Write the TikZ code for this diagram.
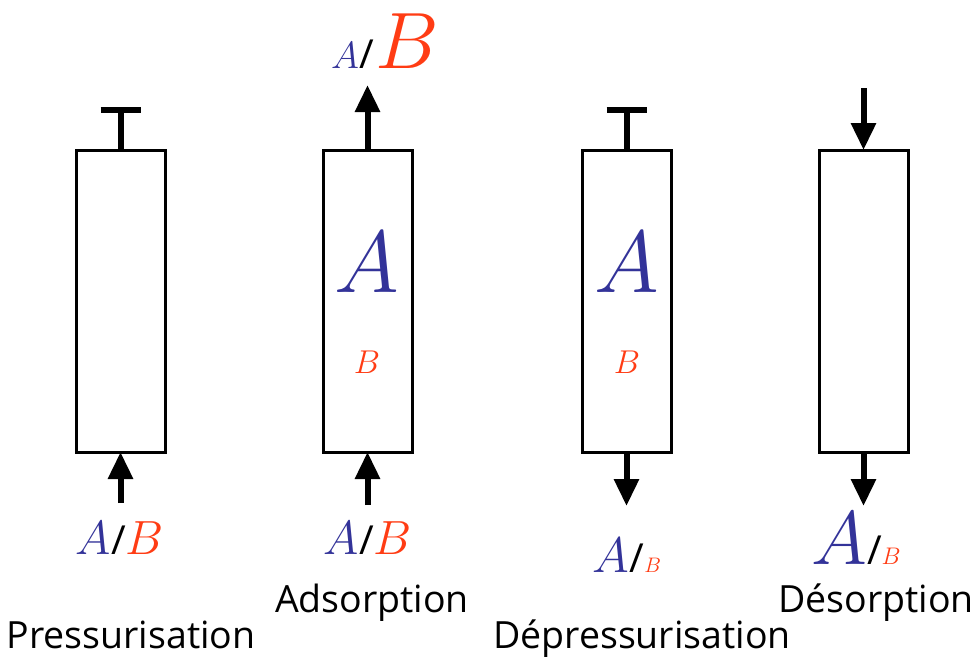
\RequirePackage{fix-cm}
\documentclass[tikz,border=0pt]{standalone}
\usepackage{fontspec}
\setmainfont{Open Sans}
\usetikzlibrary{arrows.meta,positioning}

\definecolor{bleuA}{RGB}{51,51,153}
\definecolor{rougeB}{RGB}{255,60,20}
\newcommand{\gazA}[1]{{\color{bleuA}\fontsize{#1}{#1}\selectfont$A$}}
\newcommand{\gazB}[1]{{\color{rougeB}\fontsize{#1}{#1}\selectfont$B$}}
\newcommand{\barre}{{\fontsize{40}{40}\selectfont /}}

\begin{document}
\begin{tikzpicture}[x=1pt, y=-1pt,
    colonne/.style={draw, line width=3pt, minimum width=89pt, minimum height=302pt, inner sep=0pt, outer sep=0pt},
    fleche/.style={line width=6pt, -{Triangle[width=24pt,length=27pt]}},
    tige/.style={line width=6pt},
    etape/.style={anchor=base, font=\fontsize{37.5}{37.5}\selectfont, inner sep=0pt}]
  \useasboundingbox (0,0) rectangle (979,659);
  % columns
  \node[colonne] (c1) at (120.5,301) {};
  \node[colonne] (c2) at (367.5,301) {};
  \node[colonne] (c3) at (626.5,301) {};
  \node[colonne] (c4) at (863.5,301) {};
  % gas inside the columns
  \node (inA2) at (367,262) {\gazA{88}};
  \node (inB2) at (367,362) {\gazB{33}};
  \node (inA3) at (627,262) {\gazA{88}};
  \node (inB3) at (627,362) {\gazB{33}};
  % closed ends
  \coordinate (t1) at (120.5,110);
  \coordinate (t3) at (626.5,110);
  \draw[tige] (c1.north) -- (t1);
  \draw[tige] ([xshift=-20pt]t1) -- ([xshift=20pt]t1);
  \draw[tige] (c3.north) -- (t3);
  \draw[tige] ([xshift=-20pt]t3) -- ([xshift=20pt]t3);
  % feed and product streams
  \coordinate (e1) at (120.5,503);
  \coordinate (e2) at (367.5,505);
  \coordinate (s2) at (367.5,85);
  \coordinate (s3) at (626.5,506);
  \coordinate (e4) at (863.5,88);
  \coordinate (s4) at (863.5,506);
  \draw[fleche] (e1) -- (c1.south);
  \draw[fleche] (e2) -- (c2.south);
  \draw[fleche] (c2.north) -- (s2);
  \draw[fleche] (c3.south) -- (s3);
  \draw[fleche] (e4) -- (c4.north);
  \draw[fleche] (c4.south) -- (s4);
  % stream compositions
  \node[anchor=base, inner sep=0pt] (m1) at (120,554) {\gazA{48}\barre\gazB{48}};
  \node[anchor=base, inner sep=0pt] (m2) at (368,554) {\gazA{48}\barre\gazB{48}};
  \node[anchor=base, inner sep=0pt] (p2) at (385,68) {\gazA{38}\barre\,\gazB{80}};
  \node[anchor=base, inner sep=0pt] (p3) at (627,572) {\gazA{50}\barre\gazB{21}};
  \node[anchor=base, inner sep=0pt] (p4) at (856,564) {\gazA{76}\barre\gazB{24}};
  % step names
  \node[etape] (n1) at (131,648) {Pressurisation};
  \node[etape] (n2) at (372,612) {Adsorption};
  \node[etape] (n3) at (642,648) {Dépressurisation};
  \node[etape] (n4) at (876,612) {Désorption};
\end{tikzpicture}
\end{document}
